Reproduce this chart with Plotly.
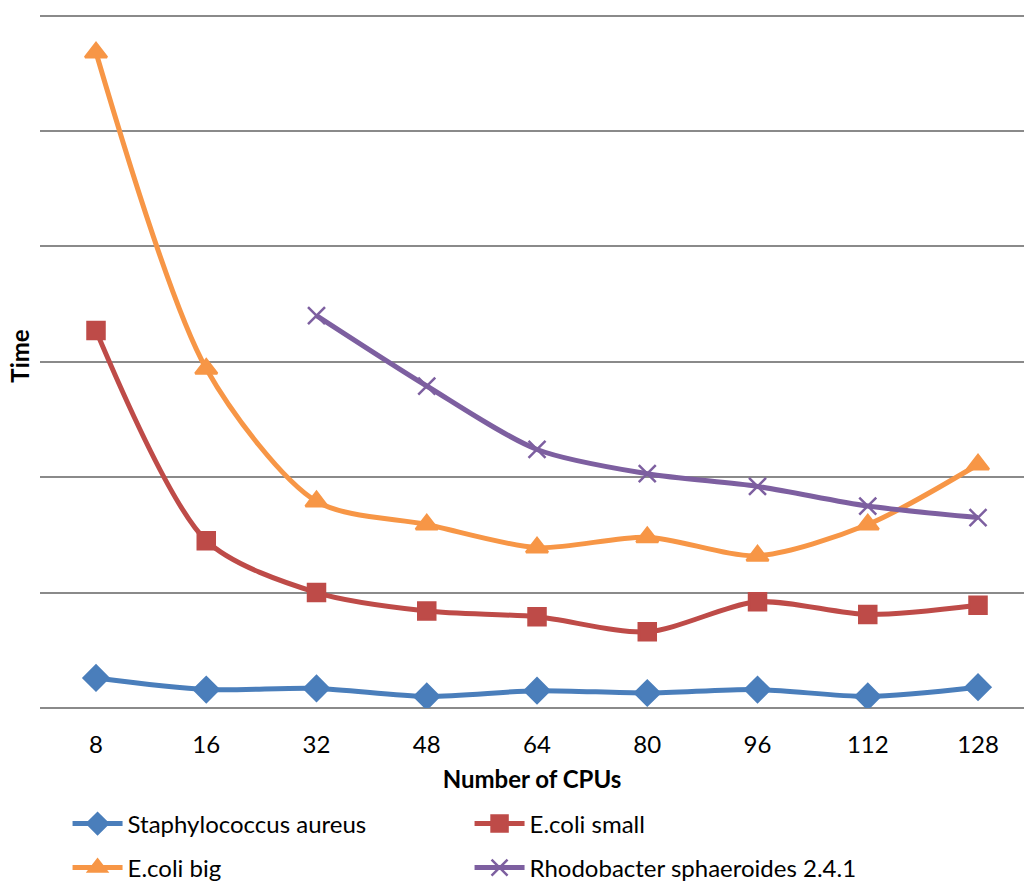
import plotly.graph_objects as go

# Run time against number of CPUs for four genomes
cpus = ["8", "16", "32", "48", "64", "80", "96", "112", "128"]

staph_aureus = [0.26, 0.16, 0.17, 0.10, 0.15, 0.13, 0.16, 0.10, 0.18]
ecoli_small = [3.27, 1.45, 1.00, 0.84, 0.79, 0.66, 0.92, 0.81, 0.89]
ecoli_big = [5.68, 2.94, 1.79, 1.59, 1.39, 1.48, 1.32, 1.59, 2.11]
rhodo_cpus = ["32", "48", "64", "80", "96", "112", "128"]
rhodobacter = [3.40, 2.79, 2.24, 2.03, 1.92, 1.75, 1.65]

FONT = "Lato"

# name, x, y, colour, marker, marker size, legend row
series = [
    ("Staphylococcus aureus", cpus, staph_aureus, "#4A7EBB", "diamond", 19, "legend"),
    ("E.coli small", cpus, ecoli_small, "#BE4B48", "square", 17, "legend"),
    ("E.coli big", cpus, ecoli_big, "#F79646", "triangle-up", 19, "legend2"),
    ("Rhodobacter sphaeroides 2.4.1", rhodo_cpus, rhodobacter, "#7D5FA0", "x-thin", 17, "legend2"),
]

fig = go.Figure()
for name, xs, ys, color, symbol, size, leg in series:
    fig.add_trace(go.Scatter(
        x=xs, y=ys, name=name, mode="lines+markers", legend=leg,
        line=dict(color=color, width=5, shape="spline", smoothing=0.8),
        marker=dict(symbol=symbol, size=size, color=color,
                    line=dict(color=color, width=2.5)),
    ))

legend_style = dict(
    orientation="h", x=0.028, xanchor="left",
    yref="container", yanchor="middle",
    entrywidth=337, entrywidthmode="pixels",
    font=dict(family=FONT, size=24), itemwidth=50,
    bgcolor="rgba(0,0,0,0)",
)

fig.update_layout(
    width=1024, height=881,
    margin=dict(l=40, r=0, t=4, b=172.5, autoexpand=False),
    paper_bgcolor="white", plot_bgcolor="white",
    font=dict(family=FONT, size=24, color="#000000"),
    showlegend=True,
    legend=dict(legend_style, y=0.0647),
    legend2=dict(legend_style, y=0.0148),
    xaxis=dict(
        type="category", categoryorder="array", categoryarray=cpus,
        range=[-0.508, 8.417], automargin=False,
        showgrid=False, zeroline=False, showline=False, ticks="",
        tickfont=dict(size=24), ticklabelstandoff=20,
        title=dict(text="<b>Number of CPUs</b>", font=dict(size=24), standoff=14),
    ),
    yaxis=dict(
        range=[0, 6.1], dtick=1, showticklabels=False, automargin=False,
        showgrid=True, gridcolor="#8a8a8a", gridwidth=2,
        zeroline=True, zerolinecolor="#8a8a8a", zerolinewidth=2,
        showline=False, ticks="",
        title=dict(text="<b>Time</b>", font=dict(size=24), standoff=2),
    ),
)

fig.write_html("out.html")
